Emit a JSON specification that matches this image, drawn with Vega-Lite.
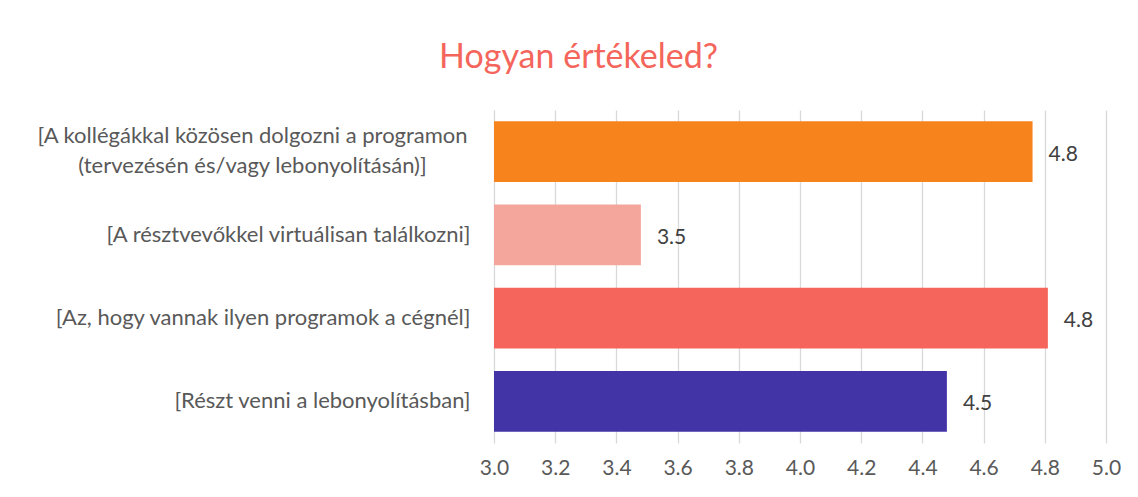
{
  "$schema": "https://vega.github.io/schema/vega-lite/v6.json",
  "autosize": {"type": "none"},
  "padding": {"left": 494, "top": 110, "right": 32, "bottom": 54},
  "width": 612,
  "height": 333,
  "background": "white",
  "title": {
    "text": "Hogyan értékeled?",
    "color": "#F4655B",
    "font": "Lato",
    "fontSize": 34,
    "fontWeight": "normal",
    "anchor": "middle",
    "frame": "bounds",
    "offset": 35
  },
  "data": {
    "values": [
      {"item": "[A kollégákkal közösen dolgozni a programon (tervezésén és/vagy lebonyolításán)]", "value": 4.76},
      {"item": "[A résztvevőkkel virtuálisan találkozni]", "value": 3.48},
      {"item": "[Az, hogy vannak ilyen programok a cégnél]", "value": 4.81},
      {"item": "[Részt venni a lebonyolításban]", "value": 4.48}
    ]
  },
  "encoding": {
    "y": {
      "field": "item",
      "type": "nominal",
      "sort": null,
      "scale": {"paddingInner": 0.27, "paddingOuter": 0.135},
      "axis": {
        "title": null,
        "ticks": false,
        "domain": true,
        "domainColor": "#D9D9D9",
        "labelFont": "Lato",
        "labelFontSize": 22,
        "labelColor": "#595959",
        "labelLimit": 600,
        "labelLineHeight": 30,
        "labelPadding": {"condition": {"test": "indexof(datum.label, ' (') > 0", "value": 242}, "value": 24},
        "labelAlign": {"condition": {"test": "indexof(datum.label, ' (') > 0", "value": "center"}, "value": "right"},
        "labelOffset": {"condition": {"test": "indexof(datum.label, ' (') > 0", "value": -16}, "value": 0},
        "labelExpr": "indexof(datum.label, ' (') > 0 ? [substring(datum.label, 0, indexof(datum.label, ' (')), substring(datum.label, indexof(datum.label, ' (') + 1)] : datum.label"
      }
    },
    "x": {
      "field": "value",
      "type": "quantitative",
      "scale": {"domain": [3, 5], "zero": false, "nice": false},
      "axis": {
        "title": null,
        "values": [3, 3.2, 3.4, 3.6, 3.8, 4, 4.2, 4.4, 4.6, 4.8, 5],
        "format": ".1f",
        "domain": false,
        "ticks": false,
        "grid": true,
        "gridColor": "#D9D9D9",
        "gridWidth": 1.3,
        "labelFlush": false,
        "labelFont": "Lato",
        "labelFontSize": 21,
        "labelColor": "#595959",
        "labelPadding": 14
      }
    }
  },
  "layer": [
    {
      "mark": {"type": "bar"},
      "encoding": {
        "x2": {"datum": 3},
        "color": {
          "field": "item",
          "type": "nominal",
          "legend": null,
          "scale": {
            "domain": [
              "[A kollégákkal közösen dolgozni a programon (tervezésén és/vagy lebonyolításán)]",
              "[A résztvevőkkel virtuálisan találkozni]",
              "[Az, hogy vannak ilyen programok a cégnél]",
              "[Részt venni a lebonyolításban]"
            ],
            "range": ["#F7831C", "#F5A69C", "#F5655B", "#4233A6"]
          }
        }
      }
    },
    {
      "mark": {"type": "text", "align": "left", "baseline": "middle", "dx": 16, "dy": 3, "font": "Lato", "fontSize": 21, "color": "#404040"},
      "encoding": {
        "text": {"field": "value", "type": "quantitative", "format": ".1f"}
      }
    }
  ],
  "config": {"view": {"stroke": null}}
}
